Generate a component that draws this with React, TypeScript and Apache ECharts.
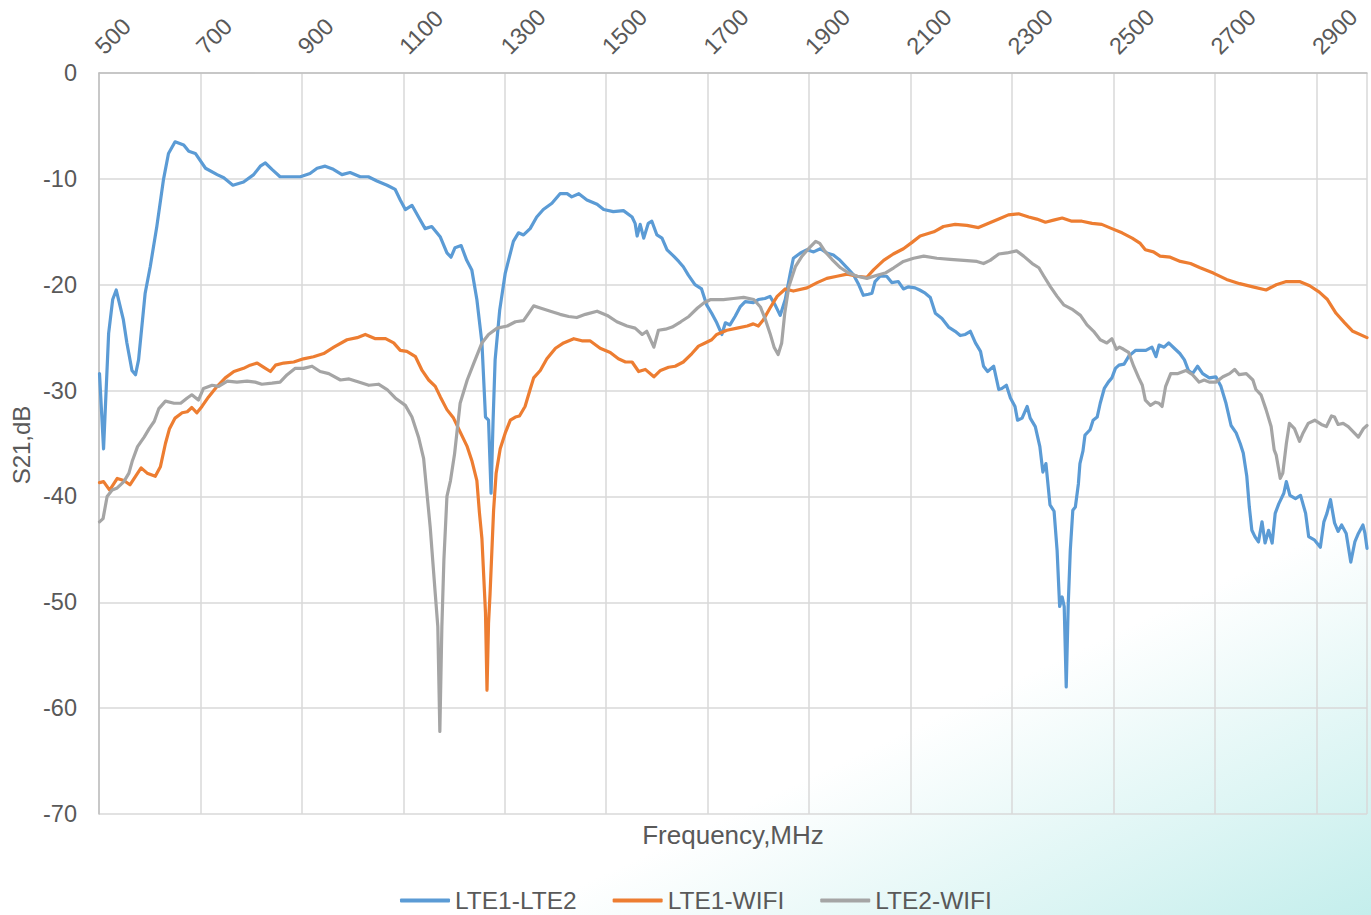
import { useEffect, useRef } from 'react';
import * as echarts from 'echarts';

const seriesNames = ['LTE1-LTE2', 'LTE1-WIFI', 'LTE2-WIFI'];
const seriesColors = ['#5B9BD5', '#ED7D31', '#A5A5A5'];

// [frequency MHz, S21 dB]
const lte1Lte2: [number, number][] = [
  [501, -28.4], [509, -35.5], [519, -24.6], [527, -21.4], [534, -20.5], [548, -23.3], [555, -25.5], [565, -28.1],
  [572, -28.5], [578, -27.1], [591, -20.8], [601, -18.3], [614, -14.5], [627, -10.1], [637, -7.6], [650, -6.5],
  [667, -6.8], [677, -7.4], [690, -7.6], [710, -9.0], [733, -9.6], [746, -9.9], [764, -10.6], [785, -10.3],
  [805, -9.6], [818, -8.8], [828, -8.5], [841, -9.1], [857, -9.8], [877, -9.8], [897, -9.8], [916, -9.5],
  [930, -9.0], [946, -8.8], [962, -9.1], [979, -9.6], [995, -9.4], [1015, -9.8], [1031, -9.8], [1048, -10.2],
  [1068, -10.6], [1084, -11.0], [1094, -12.0], [1104, -12.9], [1117, -12.5], [1130, -13.6], [1143, -14.7], [1156, -14.5],
  [1173, -15.5], [1186, -17.0], [1194, -17.4], [1202, -16.5], [1214, -16.3], [1225, -17.7], [1235, -18.6], [1245, -21.4],
  [1255, -25.5], [1262, -32.5], [1268, -32.8], [1273, -39.7], [1277, -32.8], [1281, -27.1], [1290, -22.4], [1301, -18.9],
  [1317, -15.9], [1327, -15.1], [1337, -15.3], [1350, -14.7], [1363, -13.6], [1376, -12.9], [1393, -12.3], [1409, -11.4],
  [1423, -11.4], [1432, -11.7], [1446, -11.4], [1462, -12.0], [1482, -12.4], [1495, -12.9], [1514, -13.1], [1534, -13.0],
  [1551, -13.6], [1557, -14.2], [1561, -15.4], [1567, -14.3], [1574, -15.6], [1583, -14.2], [1590, -14.0], [1600, -15.3],
  [1610, -15.6], [1620, -16.7], [1633, -17.3], [1643, -17.8], [1652, -18.3], [1662, -19.1], [1675, -20.0], [1688, -20.4],
  [1698, -21.9], [1708, -22.7], [1718, -23.6], [1728, -24.7], [1735, -23.6], [1744, -23.8], [1754, -23.0], [1764, -22.1],
  [1774, -21.6], [1790, -21.7], [1800, -21.4], [1813, -21.3], [1823, -21.1], [1833, -21.9], [1843, -22.9], [1853, -21.4],
  [1863, -18.9], [1869, -17.5], [1883, -17.0], [1896, -16.7], [1909, -16.9], [1922, -16.6], [1935, -17.0], [1948, -17.2],
  [1961, -17.7], [1975, -18.4], [1988, -19.1], [1997, -19.9], [2007, -21.0], [2017, -20.9], [2024, -20.8], [2030, -19.7],
  [2040, -19.2], [2053, -19.2], [2063, -19.8], [2076, -19.7], [2086, -20.4], [2096, -20.2], [2109, -20.3], [2118, -20.5],
  [2129, -20.8], [2139, -21.2], [2149, -22.7], [2162, -23.2], [2175, -24.0], [2188, -24.4], [2198, -24.8], [2208, -24.7],
  [2218, -24.4], [2228, -25.5], [2238, -26.3], [2244, -27.7], [2252, -28.2], [2264, -27.7], [2274, -29.9], [2280, -29.8],
  [2289, -29.5], [2297, -30.7], [2306, -31.5], [2311, -32.8], [2320, -32.6], [2330, -31.5], [2336, -32.6], [2346, -33.4],
  [2355, -35.3], [2361, -37.7], [2367, -36.9], [2375, -40.8], [2383, -41.4], [2389, -45.1], [2394, -50.4], [2399, -49.5],
  [2403, -50.4], [2407, -58.0], [2411, -50.1], [2415, -45.1], [2420, -41.3], [2425, -41.0], [2431, -38.8], [2434, -36.9],
  [2440, -35.7], [2444, -34.2], [2454, -33.7], [2460, -32.8], [2468, -32.5], [2474, -31.2], [2482, -29.8], [2490, -29.2],
  [2497, -28.8], [2504, -27.9], [2511, -27.6], [2521, -27.5], [2531, -26.7], [2544, -26.2], [2564, -26.2], [2576, -25.9],
  [2584, -26.8], [2590, -25.7], [2600, -25.9], [2609, -25.5], [2620, -26.0], [2631, -26.5], [2640, -27.1], [2648, -28.1],
  [2656, -28.4], [2666, -27.7], [2676, -28.4], [2689, -28.8], [2702, -28.7], [2712, -29.6], [2722, -31.2], [2732, -33.3],
  [2742, -34.0], [2750, -35.0], [2756, -35.9], [2763, -38.1], [2768, -41.0], [2773, -43.2], [2779, -43.8], [2786, -44.3],
  [2793, -42.4], [2799, -44.4], [2806, -43.2], [2813, -44.4], [2819, -41.6], [2826, -40.7], [2836, -39.7], [2841, -38.6],
  [2848, -39.9], [2859, -40.2], [2869, -39.9], [2879, -41.6], [2885, -43.8], [2896, -44.1], [2908, -44.8], [2915, -42.4],
  [2921, -41.6], [2928, -40.3], [2936, -42.5], [2943, -43.3], [2950, -42.7], [2959, -43.5], [2968, -46.2], [2976, -44.3],
  [2983, -43.5], [2992, -42.7], [2996, -43.5], [3000, -44.9],
];

const lte1Wifi: [number, number][] = [
  [501, -38.7], [509, -38.6], [521, -39.4], [536, -38.3], [549, -38.5], [561, -38.9], [572, -38.1], [583, -37.3],
  [595, -37.8], [611, -38.1], [621, -37.2], [631, -35.0], [639, -33.6], [650, -32.6], [664, -32.1], [674, -32.0],
  [683, -31.6], [693, -32.1], [703, -31.5], [716, -30.6], [733, -29.6], [749, -28.8], [766, -28.2], [785, -27.9],
  [798, -27.6], [812, -27.4], [825, -27.8], [838, -28.2], [848, -27.6], [864, -27.4], [884, -27.3], [903, -27.0],
  [923, -26.8], [943, -26.5], [963, -25.9], [989, -25.2], [1009, -25.0], [1025, -24.7], [1045, -25.1], [1065, -25.1],
  [1081, -25.5], [1094, -26.2], [1107, -26.3], [1124, -26.8], [1137, -28.1], [1150, -29.0], [1163, -29.6], [1173, -30.6],
  [1186, -31.8], [1199, -32.6], [1212, -33.9], [1226, -35.3], [1235, -36.6], [1245, -38.5], [1250, -41.5], [1255, -44.0],
  [1260, -49.0], [1262, -51.0], [1265, -58.3], [1268, -52.0], [1271, -49.2], [1278, -41.3], [1283, -37.8], [1291, -35.5],
  [1301, -34.0], [1311, -32.8], [1321, -32.5], [1329, -32.4], [1340, -31.5], [1350, -29.9], [1357, -28.8], [1370, -28.1],
  [1383, -27.0], [1400, -26.0], [1416, -25.5], [1436, -25.1], [1452, -25.3], [1468, -25.3], [1488, -26.0], [1508, -26.4],
  [1524, -27.0], [1538, -27.3], [1551, -27.3], [1564, -28.2], [1577, -28.0], [1594, -28.7], [1607, -28.1], [1623, -27.8],
  [1636, -27.7], [1652, -27.3], [1669, -26.5], [1682, -25.8], [1695, -25.5], [1708, -25.2], [1718, -24.7], [1738, -24.3],
  [1758, -24.1], [1778, -23.9], [1790, -23.7], [1800, -23.9], [1810, -23.3], [1823, -22.2], [1837, -21.1], [1853, -20.4],
  [1869, -20.6], [1896, -20.3], [1916, -19.8], [1935, -19.4], [1955, -19.2], [1975, -19.0], [1995, -19.2], [2014, -19.3],
  [2027, -18.6], [2047, -17.7], [2066, -17.1], [2086, -16.6], [2103, -16.0], [2119, -15.4], [2146, -15.0], [2165, -14.5],
  [2188, -14.3], [2211, -14.4], [2234, -14.6], [2254, -14.2], [2274, -13.8], [2293, -13.4], [2313, -13.3], [2333, -13.6],
  [2349, -13.8], [2366, -14.1], [2382, -13.9], [2399, -13.7], [2418, -14.0], [2438, -14.0], [2458, -14.2], [2477, -14.3],
  [2497, -14.7], [2517, -15.1], [2537, -15.6], [2553, -16.1], [2563, -16.7], [2579, -16.9], [2592, -17.3], [2612, -17.4],
  [2632, -17.8], [2652, -18.0], [2671, -18.4], [2697, -18.9], [2723, -19.5], [2749, -19.9], [2775, -20.2], [2801, -20.5],
  [2821, -20.0], [2841, -19.7], [2867, -19.7], [2887, -20.1], [2906, -20.7], [2922, -21.4], [2939, -22.7], [2956, -23.6],
  [2972, -24.4], [3000, -25.0],
];

const lte2Wifi: [number, number][] = [
  [501, -42.4], [508, -42.1], [516, -40.0], [526, -39.4], [536, -39.2], [549, -38.6], [559, -37.8], [566, -36.6],
  [576, -35.3], [589, -34.4], [599, -33.6], [609, -32.9], [618, -31.7], [631, -31.0], [648, -31.2], [661, -31.2],
  [674, -30.7], [683, -30.4], [696, -30.9], [706, -29.8], [723, -29.5], [736, -29.6], [753, -29.1], [772, -29.2],
  [792, -29.1], [808, -29.2], [821, -29.4], [841, -29.3], [857, -29.2], [871, -28.5], [887, -27.9], [903, -27.9],
  [920, -27.7], [936, -28.2], [953, -28.4], [976, -29.0], [993, -28.9], [1012, -29.2], [1032, -29.5], [1051, -29.4],
  [1068, -29.9], [1084, -30.7], [1104, -31.4], [1117, -32.5], [1130, -34.4], [1140, -36.4], [1153, -42.9], [1163, -49.2],
  [1168, -52.3], [1172, -62.2], [1176, -52.3], [1180, -46.0], [1186, -40.0], [1193, -38.5], [1201, -36.0], [1212, -31.2],
  [1226, -29.0], [1239, -27.4], [1255, -25.5], [1268, -24.7], [1285, -24.1], [1305, -23.9], [1321, -23.5], [1337, -23.4],
  [1347, -22.7], [1357, -22.0], [1370, -22.2], [1390, -22.5], [1409, -22.8], [1426, -23.0], [1442, -23.1], [1459, -22.8],
  [1482, -22.5], [1502, -22.9], [1521, -23.5], [1541, -23.9], [1557, -24.1], [1571, -24.7], [1580, -24.4], [1594, -25.9],
  [1603, -24.3], [1617, -24.2], [1630, -24.0], [1647, -23.5], [1663, -23.0], [1680, -22.2], [1693, -21.7], [1706, -21.4],
  [1731, -21.4], [1751, -21.3], [1771, -21.2], [1791, -21.4], [1804, -22.1], [1814, -23.3], [1823, -24.6], [1831, -25.9],
  [1839, -26.6], [1846, -25.5], [1852, -22.7], [1860, -20.2], [1873, -18.3], [1886, -17.3], [1899, -16.6], [1913, -15.9],
  [1921, -16.1], [1932, -16.9], [1945, -17.6], [1962, -18.4], [1978, -18.9], [1995, -19.2], [2014, -19.4], [2034, -19.1],
  [2050, -18.9], [2067, -18.4], [2086, -17.8], [2106, -17.5], [2126, -17.3], [2152, -17.5], [2178, -17.6], [2205, -17.7],
  [2231, -17.8], [2244, -18.0], [2257, -17.7], [2274, -17.1], [2290, -17.0], [2309, -16.8], [2323, -17.3], [2340, -18.0],
  [2353, -18.4], [2363, -19.2], [2376, -20.2], [2389, -21.1], [2402, -21.9], [2418, -22.3], [2435, -22.9], [2448, -23.8],
  [2461, -24.4], [2474, -25.2], [2487, -25.5], [2497, -25.1], [2506, -26.1], [2512, -25.9], [2520, -26.1], [2530, -26.4],
  [2540, -27.7], [2550, -28.8], [2557, -29.5], [2563, -30.9], [2573, -31.4], [2583, -31.1], [2590, -31.2], [2596, -31.5],
  [2603, -29.6], [2613, -28.4], [2626, -28.4], [2643, -28.1], [2656, -28.5], [2669, -29.2], [2679, -29.0], [2689, -29.2],
  [2702, -29.2], [2716, -28.7], [2729, -28.4], [2739, -28.0], [2748, -28.5], [2762, -28.4], [2775, -29.0], [2781, -29.9],
  [2791, -30.4], [2801, -31.8], [2811, -33.4], [2817, -35.6], [2821, -36.1], [2829, -38.3], [2834, -37.8], [2841, -35.0],
  [2847, -33.1], [2857, -33.6], [2867, -34.8], [2874, -34.0], [2884, -33.1], [2897, -32.8], [2910, -33.2], [2920, -33.4],
  [2930, -32.4], [2936, -32.5], [2943, -33.2], [2953, -33.1], [2963, -33.4], [2973, -33.9], [2983, -34.4], [2993, -33.6],
  [3000, -33.3],
];

const seriesData = [lte1Lte2, lte1Wifi, lte2Wifi];

const xName = 'Frequency,MHz';
const yName = 'S21,dB';

const FONT = '"Liberation Sans", Arial, sans-serif';
const TEXT = '#595959';

export default function App() {
  const ref = useRef<HTMLDivElement>(null);

  useEffect(() => {
    if (!ref.current) return;
    const chart = echarts.init(ref.current, undefined, { renderer: 'svg' });
    const option: any = {
      animation: false,
      backgroundColor: 'transparent',
      textStyle: { fontFamily: FONT },
      grid: { left: 99, top: 73, width: 1268, height: 741, containLabel: false, outerBoundsMode: 'none' },
      xAxis: {
        type: 'value',
        position: 'top',
        min: 500,
        max: 3000,
        interval: 200,
        axisLine: { show: true, onZero: false, lineStyle: { color: '#BFBFBF', width: 1.5 } },
        axisTick: { show: false },
        axisLabel: {
          rotate: -45,
          fontSize: 23.5,
          color: TEXT,
          margin: 23,
          showMaxLabel: false,
          fontFamily: FONT,
          formatter: (v: number) => String(v),
        },
        splitLine: { show: true, lineStyle: { color: '#D9D9D9', width: 1.5 } },
      },
      yAxis: {
        type: 'value',
        min: -70,
        max: 0,
        interval: 10,
        axisLine: { show: true, onZero: false, lineStyle: { color: '#BFBFBF', width: 1.5 } },
        axisTick: { show: false },
        axisLabel: { fontSize: 23.5, color: TEXT, margin: 22, fontFamily: FONT },
        splitLine: { show: true, lineStyle: { color: '#D9D9D9', width: 1.5 } },
      },
      legend: {
        left: 400,
        top: 888,
        padding: 0,
        itemWidth: 50,
        itemHeight: 4,
        itemGap: 36,
        icon: 'roundRect',
        textStyle: { fontSize: 24.5, lineHeight: 22, color: TEXT, fontFamily: FONT },
        data: seriesNames,
      },
      graphic: [
        {
          type: 'rect',
          z: -10,
          silent: true,
          shape: { x: 0, y: 0, width: 1371, height: 915 },
          style: {
            fill: new echarts.graphic.LinearGradient(1215, 585, 1371, 915, [
              { offset: 0, color: 'rgba(197,238,236,0)' },
              { offset: 1, color: 'rgba(196,238,236,1)' },
            ], true),
          },
        },
        {
          type: 'text',
          x: 733,
          y: 835,
          style: { text: xName, fontSize: 26, fill: TEXT, align: 'center', verticalAlign: 'middle', fontFamily: FONT },
        },
        {
          type: 'text',
          x: 21,
          y: 445,
          rotation: Math.PI / 2,
          style: { text: yName, fontSize: 24, fill: TEXT, align: 'center', verticalAlign: 'middle', fontFamily: FONT },
        },
      ],
      series: seriesNames.map((name, i) => ({
        name,
        type: 'line',
        data: seriesData[i],
        showSymbol: false,
        symbol: 'none',
        smooth: false,
        color: seriesColors[i],
        lineStyle: { color: seriesColors[i], width: 3.2, cap: 'round', join: 'round' },
        z: 2 + i,
      })),
    };
    chart.setOption(option);
    return () => chart.dispose();
  }, []);

  return (
    <div
      ref={ref}
      style={{ position: 'fixed', left: 0, top: 0, width: 1371, height: 915, background: '#ffffff' }}
    />
  );
}
